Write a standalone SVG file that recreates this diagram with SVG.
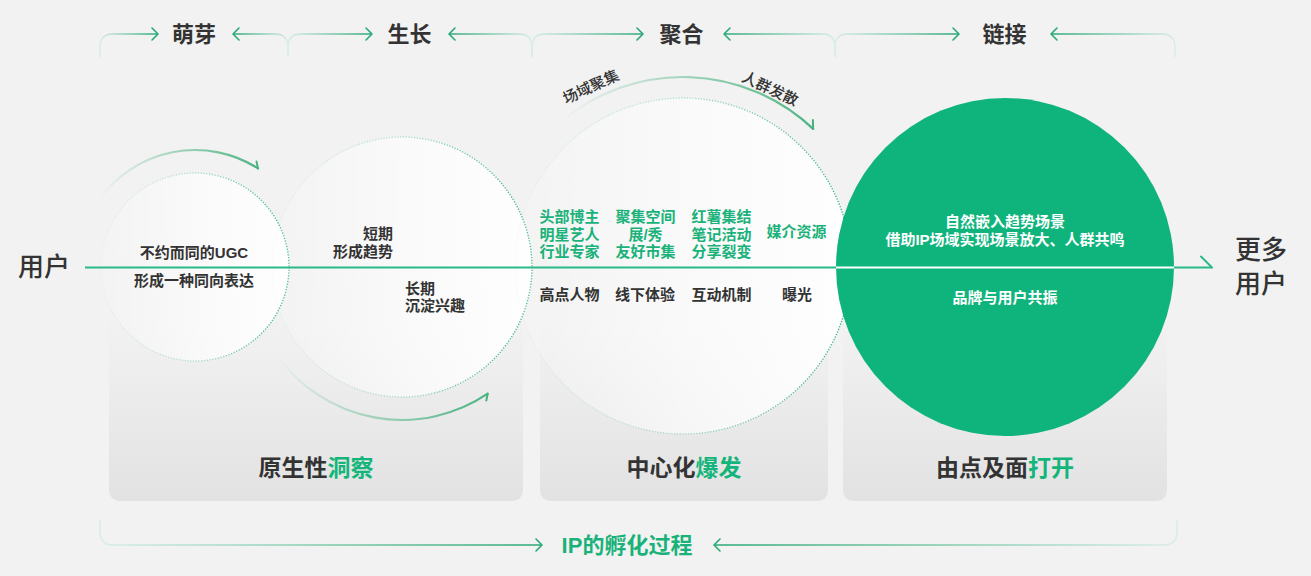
<svg xmlns="http://www.w3.org/2000/svg" width="1311" height="576" viewBox="0 0 1311 576">
<style>
text{font-family:"Liberation Sans","Noto Sans CJK SC",sans-serif}
.lbl{font-size:22px;font-weight:bold;fill:#333;text-anchor:middle}
.t{font-size:15px;font-weight:600;fill:#333}
.g{font-size:15px;font-weight:600;fill:#1ab27a;text-anchor:middle}
.w{font-size:15px;font-weight:600;fill:#fff;text-anchor:middle}
.big{font-size:26px;font-weight:500;fill:#333}
.ttl{font-size:23px;font-weight:bold;fill:#333;text-anchor:middle}
.hl{fill:#14b57b}
.brL{fill:none;stroke:url(#gL);stroke-width:1.6}
.brR{fill:none;stroke:url(#gR);stroke-width:1.6}
.ah{fill:none;stroke:#2aa877;stroke-width:1.6;stroke-linecap:round;stroke-linejoin:round}
.dot{stroke:url(#dotG);stroke-width:1.4;stroke-dasharray:1.2 1.6}
.arc{fill:none;stroke:url(#arcG);stroke-width:2.2;stroke-linecap:round}
.arcR{fill:none;stroke:url(#arcG2);stroke-width:2.2;stroke-linecap:round}
.bar{fill:none;stroke:#49b07f;stroke-width:2;stroke-linecap:round}
</style>
<defs>
<linearGradient id="gL" x1="0" y1="0" x2="1" y2="0"><stop offset="0" stop-color="#d9eee4"/><stop offset="1" stop-color="#2aa877"/></linearGradient>
<linearGradient id="gR" x1="0" y1="0" x2="1" y2="0"><stop offset="0" stop-color="#2aa877"/><stop offset="1" stop-color="#d9eee4"/></linearGradient>
<linearGradient id="panelG" x1="0" y1="0" x2="0" y2="1"><stop offset="0" stop-color="#efefef" stop-opacity="0"/><stop offset="0.5" stop-color="#eeeeee" stop-opacity="0.2"/><stop offset="0.7" stop-color="#ebebeb" stop-opacity="0.9"/><stop offset="1" stop-color="#e2e2e2"/></linearGradient>
<linearGradient id="circG" x1="0" y1="0" x2="1" y2="0"><stop offset="0" stop-color="#ffffff" stop-opacity="0.1"/><stop offset="0.5" stop-color="#ffffff" stop-opacity="0.6"/><stop offset="1" stop-color="#ffffff" stop-opacity="0.95"/></linearGradient>
<linearGradient id="dotG" x1="0" y1="0" x2="1" y2="0"><stop offset="0" stop-color="#2db37f" stop-opacity="0.05"/><stop offset="0.5" stop-color="#2db37f" stop-opacity="0.35"/><stop offset="1" stop-color="#2db37f"/></linearGradient>
<linearGradient id="arcG" x1="0" y1="0" x2="1" y2="0"><stop offset="0" stop-color="#4cb482" stop-opacity="0"/><stop offset="1" stop-color="#4cb482"/></linearGradient>
<linearGradient id="arcG2" x1="0" y1="0" x2="1" y2="0"><stop offset="0" stop-color="#4cb482" stop-opacity="0"/><stop offset="0.4" stop-color="#4cb482" stop-opacity="0.4"/><stop offset="1" stop-color="#4cb482"/></linearGradient>
</defs>
<rect width="1311" height="576" fill="#f2f2f2"/>

<g id="panels">
<path id="panel1" d="M109 140 H523 V489 Q523 501 511 501 H121 Q109 501 109 489 Z" fill="url(#panelG)"/>
<path id="panel2" d="M540 140 H828 V489 Q828 501 816 501 H552 Q540 501 540 489 Z" fill="url(#panelG)"/>
<path id="panel3" d="M843 140 H1167 V489 Q1167 501 1155 501 H855 Q843 501 843 489 Z" fill="url(#panelG)"/>
</g>

<g id="stage-brackets">
<g id="stage1">
<path class="brL" d="M100 57 V47 Q100 34 113 34 H158"/>
<path class="ah" d="M152 28 L158 34 L152 40"/>
<path class="brR" d="M233 34 H275 Q288 34 288 47 V57"/>
<path class="ah" d="M239 28 L233 34 L239 40"/>
<text class="lbl" x="194" y="42">萌芽</text>
</g>
<g id="stage2">
<path class="brL" d="M288 57 V47 Q288 34 301 34 H372"/>
<path class="ah" d="M366 28 L372 34 L366 40"/>
<path class="brR" d="M449 34 H519 Q532 34 532 47 V57"/>
<path class="ah" d="M455 28 L449 34 L455 40"/>
<text class="lbl" x="409.5" y="42">生长</text>
</g>
<g id="stage3">
<path class="brL" d="M532 57 V47 Q532 34 545 34 H643"/>
<path class="ah" d="M637 28 L643 34 L637 40"/>
<path class="brR" d="M724 34 H822 Q835 34 835 47 V57"/>
<path class="ah" d="M730 28 L724 34 L730 40"/>
<text class="lbl" x="681.5" y="42">聚合</text>
</g>
<g id="stage4">
<path class="brL" d="M835 57 V47 Q835 34 848 34 H959"/>
<path class="ah" d="M953 28 L959 34 L953 40"/>
<path class="brR" d="M1051 34 H1162 Q1175 34 1175 47 V57"/>
<path class="ah" d="M1057 28 L1051 34 L1057 40"/>
<text class="lbl" x="1004.5" y="42">链接</text>
</g>
</g>

<g id="circle1">
<circle cx="195" cy="267" r="94" fill="url(#circG)" class="dot"/>
</g>
<g id="circle2">
<circle cx="402" cy="267" r="130" fill="url(#circG)" class="dot"/>
</g>
<g id="circle3">
<circle cx="683" cy="266" r="168" fill="url(#circG)" class="dot"/>
</g>

<g id="connectors">
<path class="arc" d="M99.2 199.9 A117 117 0 0 1 258 168.4"/>
<path class="bar" d="M258 168.4 L256.5 161.6"/>
<path class="arc" d="M276.7 354.8 A153 153 0 0 0 487.7 393.7"/>
<path class="bar" d="M487.7 393.7 L486.3 400.6"/>
<path class="arcR" d="M561.5 121.2 A189 189 0 0 1 813.1 128.9"/>
<path class="bar" d="M813.1 128.9 L812.9 120"/>
<path d="M85 267.5 H1212" stroke="#2bb88a" stroke-width="2" fill="none"/>
<path d="M1201 256.5 L1212 267.5" stroke="#2bb88a" stroke-width="2" fill="none" stroke-linecap="round"/>
</g>

<g id="circle4">
<circle cx="1005" cy="267" r="169" fill="#0fb47c"/>
<path d="M836 267.5 H1174" stroke="#ffffff" stroke-width="2"/>
<text class="w" x="1005" y="227">自然嵌入趋势场景</text>
<text class="w" x="1005" y="245">借助IP场域实现场景放大、人群共鸣</text>
<text class="w" x="1005" y="303">品牌与用户共振</text>
</g>

<g id="circle1-text">
<text class="t" x="194" y="258" text-anchor="middle">不约而同的UGC</text>
<text class="t" x="194" y="286" text-anchor="middle">形成一种同向表达</text>
</g>
<g id="circle2-text">
<text class="t" x="393" y="239" text-anchor="end">短期</text>
<text class="t" x="393" y="257" text-anchor="end">形成趋势</text>
<text class="t" x="405" y="294">长期</text>
<text class="t" x="405" y="311">沉淀兴趣</text>
</g>
<g id="circle3-text">
<text class="t" style="font-weight:500" transform="translate(591 87) rotate(-25)" y="5" text-anchor="middle">场域聚集</text>
<text class="t" style="font-weight:500" transform="translate(770 89) rotate(25)" y="5" text-anchor="middle">人群发散</text>
<text class="g" x="569.5" y="222">头部博主</text>
<text class="g" x="569.5" y="240">明星艺人</text>
<text class="g" x="569.5" y="257">行业专家</text>
<text class="g" x="645.5" y="222">聚集空间</text>
<text class="g" x="645.5" y="240">展/秀</text>
<text class="g" x="645.5" y="257">友好市集</text>
<text class="g" x="721.5" y="222">红薯集结</text>
<text class="g" x="721.5" y="240">笔记活动</text>
<text class="g" x="721.5" y="257">分享裂变</text>
<text class="g" x="796.5" y="237">媒介资源</text>
<text class="t" x="569.5" y="300" text-anchor="middle">高点人物</text>
<text class="t" x="645" y="300" text-anchor="middle">线下体验</text>
<text class="t" x="721.5" y="300" text-anchor="middle">互动机制</text>
<text class="t" x="797" y="300" text-anchor="middle">曝光</text>
</g>

<g id="user-start">
<text class="big" x="18" y="276">用户</text>
</g>
<g id="user-end">
<text class="big" x="1235" y="259">更多</text>
<text class="big" x="1235" y="293">用户</text>
</g>

<g id="panel-titles">
<text class="ttl" x="316" y="476">原生性<tspan class="hl">洞察</tspan></text>
<text class="ttl" x="684" y="476">中心化<tspan class="hl">爆发</tspan></text>
<text class="ttl" x="1005" y="476">由点及面<tspan class="hl">打开</tspan></text>
</g>

<g id="process-bracket">
<path class="brL" d="M100 520 V532 Q100 545 113 545 H542"/>
<path class="ah" d="M536 539 L542 545 L536 551"/>
<path class="brR" d="M714 545 H1164 Q1177 545 1177 532 V520"/>
<path class="ah" d="M720 539 L714 545 L720 551"/>
<text x="627" y="553" style="font-size:22px;font-weight:bold;fill:#1ab27a;text-anchor:middle">IP的孵化过程</text>
</g>
</svg>
